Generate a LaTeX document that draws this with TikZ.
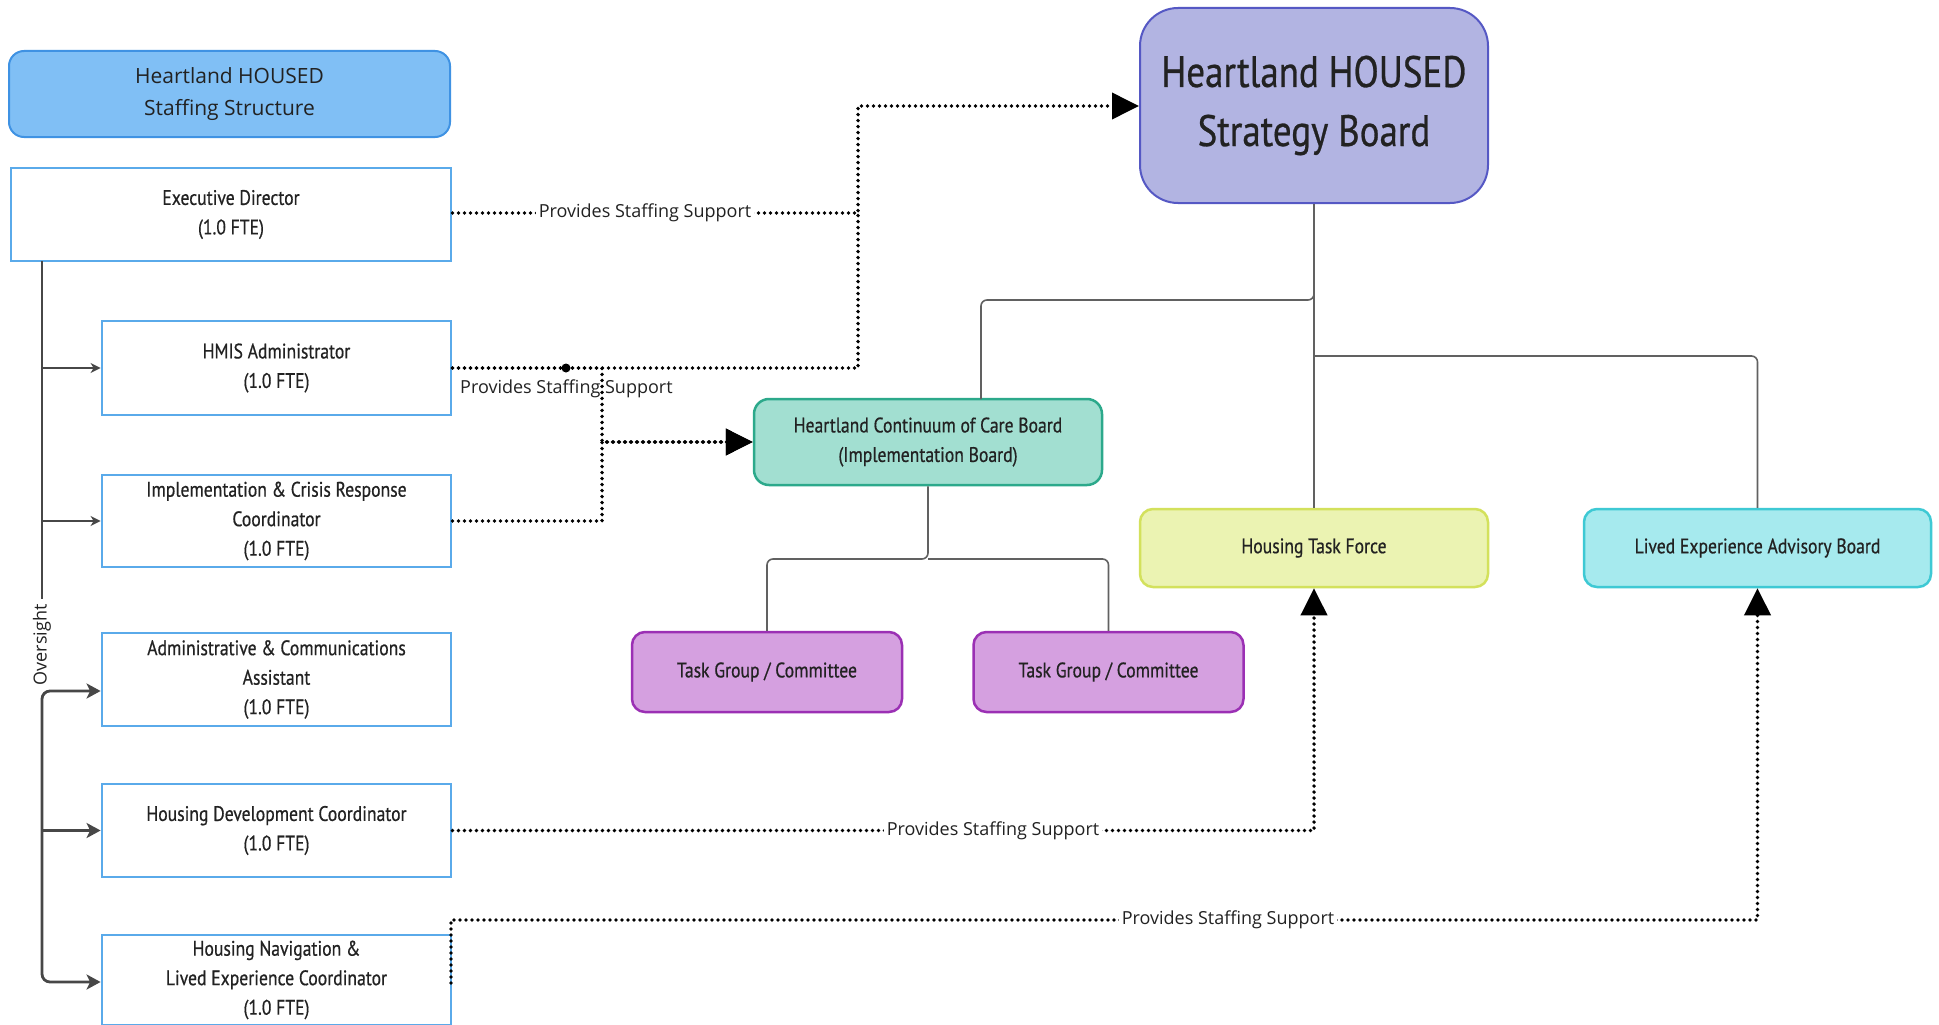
\documentclass[tikz,border=0pt]{standalone}
\usepackage{fontspec}
\setmainfont{PT Sans}[FakeStretch=0.84,FakeBold=0.6]
\newfontfamily\widefont{Open Sans}
\usetikzlibrary{arrows.meta}
\definecolor{titlefill}{HTML}{80BFF5}
\definecolor{titledraw}{HTML}{3F92E3}
\definecolor{staffdraw}{HTML}{5AAAEA}
\definecolor{stratfill}{HTML}{B2B4E2}
\definecolor{stratdraw}{HTML}{5558C4}
\definecolor{cocfill}{HTML}{A2DFD1}
\definecolor{cocdraw}{HTML}{2CA98B}
\definecolor{htffill}{HTML}{EBF3B2}
\definecolor{htfdraw}{HTML}{D3E15C}
\definecolor{livedfill}{HTML}{A6EAEE}
\definecolor{liveddraw}{HTML}{3EC9D4}
\definecolor{tgfill}{HTML}{D5A0E0}
\definecolor{tgdraw}{HTML}{9B30B4}
\definecolor{txt}{HTML}{222222}
\begin{document}
\begin{tikzpicture}[x=1pt,y=-1pt,
  basefont/.style={font={\fontsize{21}{29.5}\selectfont}, text=txt, align=center},
  staffbox/.style={basefont, draw=staffdraw, fill=white, line width=2.8pt, minimum width=349pt, inner sep=0pt},
  titlebox/.style={font={\widefont\fontsize{21}{32}\selectfont}, text=txt, align=center, draw=titledraw, fill=titlefill, line width=2pt, rounded corners=15pt, minimum width=441pt, minimum height=86pt},
  stratbox/.style={font={\fontsize{44}{59}\selectfont}, text=txt, align=center, draw=stratdraw, fill=stratfill, line width=2pt, rounded corners=38pt, minimum width=348pt, minimum height=195pt},
  cocbox/.style={basefont, draw=cocdraw, fill=cocfill, line width=2.5pt, rounded corners=15pt, minimum width=348pt, minimum height=86pt},
  htfbox/.style={basefont, draw=htfdraw, fill=htffill, line width=2.5pt, rounded corners=13pt, minimum width=348pt, minimum height=78pt},
  livedbox/.style={basefont, draw=liveddraw, fill=livedfill, line width=2.5pt, rounded corners=13pt, minimum width=347pt, minimum height=78pt},
  tgbox/.style={basefont, draw=tgdraw, fill=tgfill, line width=2.5pt, rounded corners=13pt, minimum width=270pt, minimum height=80pt},
  treeline/.style={draw=black!62, line width=1.6pt, rounded corners=6pt},
  overline/.style={draw=black!72, line width=2.8pt, rounded corners=8pt},
  thinover/.style={draw=black!72, line width=2pt},
  overtip/.style={-{Stealth[length=14pt,width=15pt,inset=3.5pt]}},
  smalltip/.style={-{Stealth[length=10pt,width=10pt,inset=3pt]}},
  dotline/.style={draw=black, line width=3.8pt, line cap=round, dash pattern=on 0pt off 6pt},
  bigtip/.style={-{Triangle[length=27pt,width=26pt]}},
  linelabel/.style={font={\widefont\fontsize{18}{22}\selectfont}, text=txt, fill=white, inner sep=3pt},
  widelabel/.style={font={\widefont\fontsize{18}{22}\selectfont}, text=txt, inner sep=0pt}
]
\clip (0,0) rectangle (1939,1025);
\fill[white] (0,0) rectangle (1939,1025);

% ---- nodes ----
\node[titlebox] (title) at (229.5,94) {Heartland HOUSED\\Staffing Structure};
\node[staffbox, minimum width=440pt, minimum height=93pt] (exec) at (231,214.5) {Executive Director\\(1.0 FTE)};
\node[staffbox, minimum height=94pt] (hmis) at (276.5,368) {HMIS Administrator\\(1.0 FTE)};
\node[staffbox, minimum height=92pt] (impl) at (276.5,521) {Implementation \& Crisis Response\\Coordinator\\(1.0 FTE)};
\node[staffbox, minimum height=93pt] (admin) at (276.5,679.5) {Administrative \& Communications\\Assistant\\(1.0 FTE)};
\node[staffbox, minimum height=93pt] (hdev) at (276.5,830.5) {Housing Development Coordinator\\(1.0 FTE)};
\node[staffbox, minimum height=90pt] (nav) at (276.5,980) {Housing Navigation \&\\Lived Experience Coordinator\\(1.0 FTE)};

\node[stratbox] (strat) at (1314,105.5) {Heartland HOUSED\\Strategy Board};
\node[cocbox] (coc) at (928,442) {Heartland Continuum of Care Board\\(Implementation Board)};
\node[htfbox] (htf) at (1314,548) {Housing Task Force};
\node[livedbox] (lived) at (1757.5,548) {Lived Experience Advisory Board};
\node[tgbox] (tg1) at (767,672) {Task Group / Committee};
\node[tgbox] (tg2) at (1108.5,672) {Task Group / Committee};

% ---- tree connectors ----
\coordinate (cocin) at (981,399);
\coordinate (split) at (1314,356);
\coordinate (tgsplit) at (928,559);
\draw[treeline] (strat.south) -- (1314,300) -- (981,300) -- (cocin);
\draw[treeline] (strat.south) -- (htf.north);
\draw[treeline] (split) -- (1757.5,356) -- (lived.north);
\draw[treeline] (coc.south) -- (tgsplit) -- (767,559) -- (tg1.north);
\draw[treeline] (tgsplit) -- (1108.5,559) -- (tg2.north);

% ---- oversight ----
\coordinate (ovtop) at (42,261);
\coordinate (ovmid) at (42,599);
\coordinate (ovlow) at (42,691);
\coordinate (ovbot) at (42,982);
\draw[thinover] (ovtop) -- (ovmid);
\draw[thinover, smalltip] (ovtop |- hmis.west) -- (hmis.west);
\draw[thinover, smalltip] (ovtop |- impl.west) -- (impl.west);
\draw[overline, {Stealth[length=14pt,width=15pt,inset=3.5pt]}-{Stealth[length=14pt,width=15pt,inset=3.5pt]}]
  (admin.west |- ovlow) -- (ovlow) -- (ovbot) -- (nav.west |- ovbot);
\draw[draw=black!72, line width=2.8pt, overtip] (ovtop |- hdev.west) -- (hdev.west);
\node[widelabel, rotate=90] (ovlabel) at (42,645) {Oversight};

% ---- staffing support (dotted) ----
\coordinate (jexec) at (858,213);
\coordinate (jtop) at (858,106);
\coordinate (jv) at (602,442);
\draw[dotline, bigtip] (exec.east |- jexec) -- (jexec) -- (jtop) -- (strat.west |- jtop);
\node[linelabel] (lab1) at (645,213) {Provides Staffing Support};
\draw[dotline] (hmis.east) -- (858,368) -- (jexec);
\node[widelabel, anchor=west] (lab2) at (460,389) {Provides Staffing Support};
\draw[dotline, bigtip] (hmis.east) -- (602,368) -- (jv) -- (coc.west);
\draw[dotline, bigtip] (impl.east) -- (602,521) -- (jv) -- (coc.west);
\fill (566,368) circle (4.5pt);
\draw[dotline, bigtip] (hdev.east) -- (1314,830.5) -- (htf.south);
\node[linelabel] (lab3) at (993,830.5) {Provides Staffing Support};
\coordinate (navout) at (451,983);
\draw[dotline, bigtip] (navout) -- (451,920) -- (1757.5,920) -- (lived.south);
\node[linelabel] (lab4) at (1228,920) {Provides Staffing Support};
\end{tikzpicture}
\end{document}
